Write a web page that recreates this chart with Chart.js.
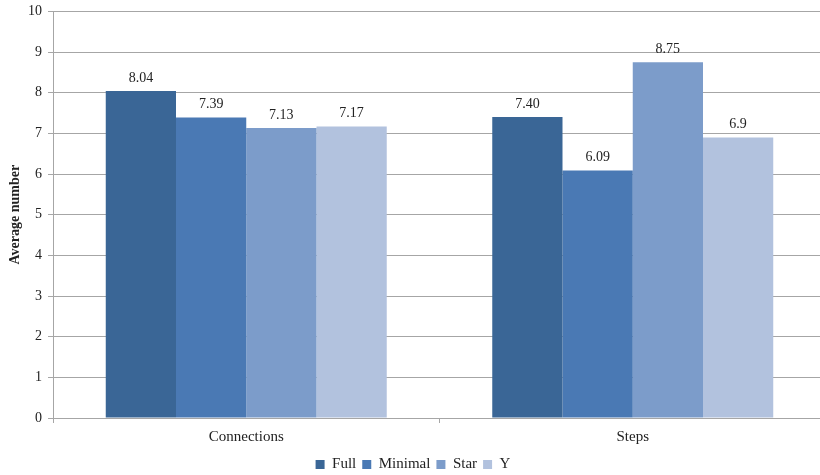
<!DOCTYPE html>
<html>
<head>
<meta charset="utf-8">
<script src="https://cdn.jsdelivr.net/npm/chart.js@4/dist/chart.umd.min.js"></script>
<style>
  html, body { margin: 0; padding: 0; overflow: hidden; background: #fff; }
  #wrap { width: 826px; height: 478px; margin-top: -3px; position: relative; }
</style>
</head>
<body>
<div id="wrap"><canvas id="chart"></canvas></div>
<script>
const categories = ['Connections', 'Steps'];
const seriesNames = ['Full', 'Minimal', 'Star', 'Y'];
const fullValues = [8.04, 7.40];
const minimalValues = [7.39, 6.09];
const starValues = [7.13, 8.75];
const yValues = [7.17, 6.9];
const valueLabels = [['8.04', '7.40'], ['7.39', '6.09'], ['7.13', '8.75'], ['7.17', '6.9']];
const colors = ['#3A6696', '#4A79B4', '#7C9CCA', '#B2C2DE'];

const serif = 'Liberation Serif, Times New Roman, serif';
const textColor = '#222';

// draws the value above each bar
const barLabels = {
  id: 'barLabels',
  afterDatasetsDraw(chart) {
    const ctx = chart.ctx;
    ctx.save();
    ctx.font = '14px ' + serif;
    ctx.fillStyle = textColor;
    ctx.textAlign = 'center';
    ctx.textBaseline = 'bottom';
    chart.data.datasets.forEach((ds, i) => {
      chart.getDatasetMeta(i).data.forEach((bar, j) => {
        ctx.fillText(valueLabels[i][j], bar.x, bar.y - 6);
      });
    });
    ctx.restore();
  }
};

const allValues = [fullValues, minimalValues, starValues, yValues];

new Chart(document.getElementById('chart'), {
  type: 'bar',
  data: {
    labels: categories,
    datasets: seriesNames.map((name, i) => ({
      label: name,
      data: allValues[i],
      backgroundColor: colors[i],
      borderWidth: 0,
      categoryPercentage: 0.727,
      barPercentage: 1.0
    }))
  },
  options: {
    responsive: true,
    maintainAspectRatio: false,
    animation: false,
    layout: { padding: { top: 0, right: 0, left: 0, bottom: -7 } },
    plugins: {
      legend: {
        position: 'bottom',
        labels: {
          boxWidth: 9,
          boxHeight: 9,
          padding: 6,
          color: textColor,
          font: { family: serif, size: 15 }
        }
      },
      tooltip: { enabled: false }
    },
    scales: {
      x: {
        grid: {
          drawOnChartArea: false,
          drawTicks: true,
          tickLength: 5,
          color: '#A6A6A6'
        },
        border: { color: '#A6A6A6' },
        ticks: {
          color: textColor,
          padding: 5,
          font: { family: serif, size: 15 }
        }
      },
      y: {
        min: 0,
        max: 10,
        afterFit(scale) { scale.width = 53; },
        grid: {
          color: '#A6A6A6',
          tickLength: 5
        },
        border: { color: '#A6A6A6' },
        ticks: {
          stepSize: 1,
          color: textColor,
          padding: 6,
          font: { family: serif, size: 14 }
        },
        title: {
          display: true,
          text: 'Average number',
          color: textColor,
          padding: { top: 7, bottom: 0 },
          font: { family: serif, size: 14, weight: 'bold' }
        }
      }
    }
  },
  plugins: [barLabels]
});
</script>
</body>
</html>
